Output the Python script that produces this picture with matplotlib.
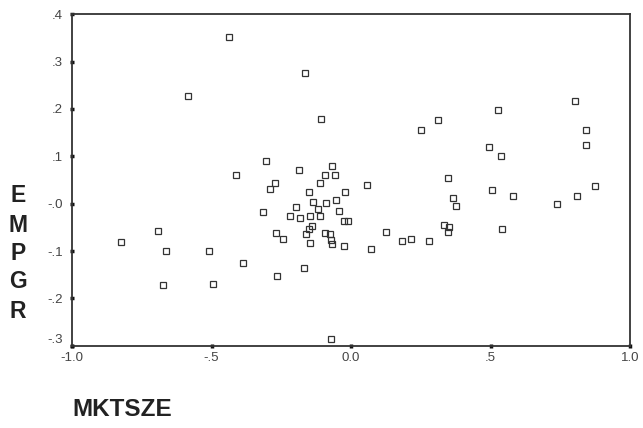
import matplotlib
matplotlib.use("Agg")
import matplotlib.pyplot as plt
from matplotlib.transforms import ScaledTranslation

plt.rcParams['font.family'] = ['Liberation Sans', 'DejaVu Sans']

# Data (MKTSZE vs EMPGR)
mktsze = [-0.436, -0.583, -0.165, -0.109, -0.306, -0.412, -0.186, -0.272, -0.289, -0.111,
          -0.095, -0.059, -0.070, -0.151, -0.023, 0.057, -0.314, -0.197, -0.135, -0.091,
          -0.054, -0.119, -0.042, -0.218, -0.183, -0.147, -0.112, -0.025, -0.011, -0.140,
          -0.149, -0.269, -0.243, -0.163, -0.147, -0.093, -0.075, -0.071, -0.069, -0.024,
          0.073, -0.825, -0.691, -0.664, -0.673, -0.510, -0.496, -0.386, -0.266, -0.168,
          -0.072, 0.125, 0.183, 0.214, 0.281, 0.334, 0.352, 0.349, 0.366, 0.376,
          0.251, 0.310, 0.528, 0.496, 0.537, 0.346, 0.506, 0.582, 0.540, 0.804,
          0.842, 0.842, 0.873, 0.810, 0.739]
empgr = [0.351, 0.227, 0.276, 0.179, 0.091, 0.061, 0.070, 0.044, 0.031, 0.044,
         0.061, 0.061, 0.080, 0.024, 0.025, 0.040, -0.017, -0.006, 0.004, 0.001,
         0.007, -0.011, -0.015, -0.027, -0.030, -0.026, -0.025, -0.036, -0.036, -0.047,
         -0.053, -0.062, -0.075, -0.065, -0.084, -0.062, -0.063, -0.077, -0.086, -0.090,
         -0.096, -0.080, -0.057, -0.100, -0.172, -0.100, -0.169, -0.126, -0.153, -0.136,
         -0.285, -0.059, -0.078, -0.075, -0.078, -0.046, -0.049, -0.060, 0.013, -0.005,
         0.155, 0.176, 0.198, 0.119, 0.100, 0.055, 0.028, 0.016, -0.053, 0.216,
         0.156, 0.123, 0.038, 0.017, -0.001]

x_ticks = [-1.0, -0.5, 0.0, 0.5, 1.0]
x_tick_labels = ["-1.0", "-.5", "0.0", ".5", "1.0"]
y_ticks = [-0.3, -0.2, -0.1, 0.0, 0.1, 0.2, 0.3, 0.4]
y_tick_labels = ["-.3", "-.2", "-.1", "-.0", ".1", ".2", ".3", ".4"]

fig = plt.figure(figsize=(6.43, 4.28), dpi=100)
ax = fig.add_axes([0.112, 0.192, 0.868, 0.775])

ax.plot(mktsze, empgr, linestyle='none', marker='s', markersize=5,
        markerfacecolor='none', markeredgecolor='#333333', markeredgewidth=0.9)

ax.set_xlim(-1.0, 1.0)
ax.set_ylim(-0.3, 0.4)
ax.set_xticks(x_ticks)
ax.set_xticklabels(x_tick_labels)
ax.set_yticks(y_ticks)
ax.set_yticklabels(y_tick_labels)

for s in ax.spines.values():
    s.set_color('#333333')
    s.set_linewidth(1.3)

ax.tick_params(axis='both', direction='inout', length=3, width=2.5, color='#111111',
               labelsize=9.5, labelcolor='#444444')
ax.tick_params(axis='y', pad=5)
ax.tick_params(axis='x', pad=3)

# the lowest y label sits slightly above the corner
for lab in ax.get_yticklabels():
    if lab.get_text() == "-.3":
        lab.set_verticalalignment('bottom')

# stacked y label
letters = ["E", "M", "P", "G", "R"]
ys = [195, 225, 253.5, 282, 311]
for ch, yy in zip(letters, ys):
    fig.text(18 / 643, 1 - yy / 428, ch, fontsize=16.5, fontweight='bold',
             color='#222222', ha='center', va='center')

fig.text(72 / 643, 1 - 410 / 428, "MKTSZE", fontsize=17.5, fontweight='bold',
         color='#222222', ha='left', va='center')

fig.savefig("out.png", dpi=100)
